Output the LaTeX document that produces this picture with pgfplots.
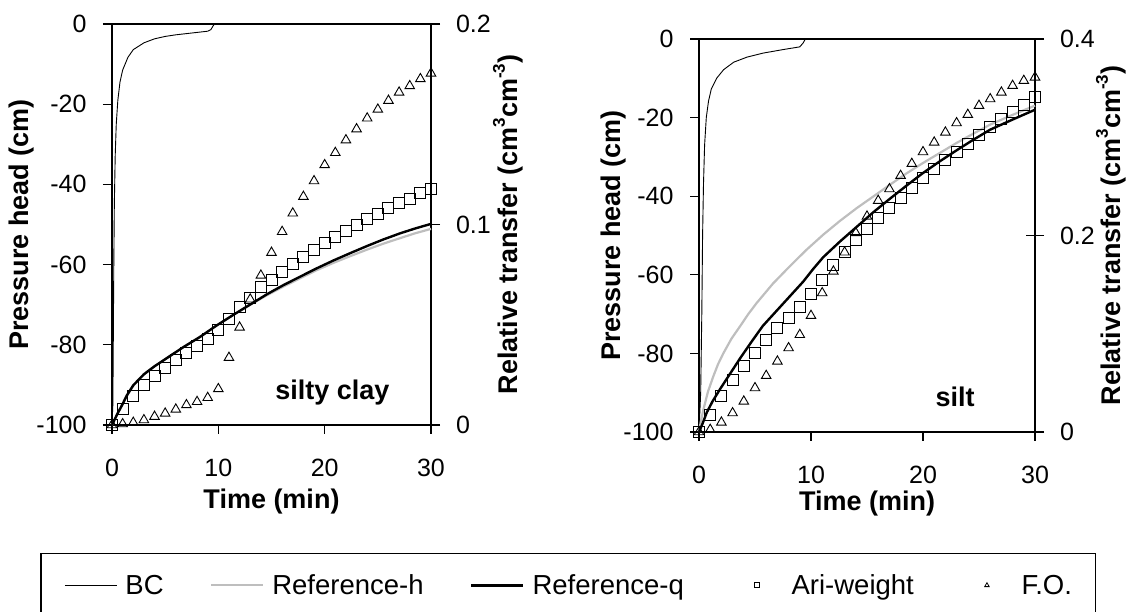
\documentclass[border=0pt]{standalone}
\usepackage{fontspec}
\setmainfont{Liberation Sans}
\usepackage{pgfplots}
\pgfplotsset{compat=1.18}
\definecolor{refh}{RGB}{190,190,190}
\newcommand\tsz{\fontsize{25}{30}\selectfont}
\newcommand\lsz{\fontsize{27}{32}\selectfont\bfseries}
\newcommand\sups[1]{\raisebox{0.45em}{\fontsize{17}{17}\selectfont #1}}
\pgfplotsset{
  base/.style={scale only axis, anchor=south west, xmin=0, xmax=30,
    axis line style={line width=1.2pt, black},
    every tick/.style={line width=1.2pt, black},
    major tick length=9pt, tick align=outside,
    tick label style={font=\tsz},
    label style={font=\lsz},
  },
  hax/.style={base, ymin=-100, ymax=0, ytick={-100,-80,-60,-40,-20,0},
    yticklabels={-100,-80,-60,-40,-20,0}, ytick pos=left,
    xtick={0,10,20,30}, xticklabels={0,10,20,30}, xtick pos=bottom,
    yticklabel style={xshift=-13pt}, xticklabel style={yshift=-21.5pt},
    xlabel={Time (min)}, ylabel={Pressure head (cm)}},
  tax/.style={base, axis x line=none, axis y line*=right, clip=false,
    yticklabel style={xshift=12.5pt},
    ylabel={Relative transfer (cm\sups{3}cm\sups{-3})}},
  bcst/.style={black, line width=0.9pt},
  rhst/.style={refh, line width=2.2pt},
  rqst/.style={black, line width=2.4pt},
  sqst/.style={only marks, mark=square, mark size=5.5pt, mark options={line width=1pt, black, fill=none}},
  trst/.style={only marks, mark=triangle, mark size=5.5pt, mark options={line width=0.9pt, black, fill=none}},
}
\begin{document}
\begin{tikzpicture}
\useasboundingbox (0pt,0pt) rectangle (1132pt,612pt);
% ---------------- left chart: silty clay
\begin{axis}[hax, at={(112pt,187pt)}, width=319pt, height=401pt,
  xlabel style={at={(axis description cs:0.5,-0.192)}, anchor=center},
  ylabel style={at={(axis description cs:-0.284,0.5)}, anchor=center}]
\addplot[bcst] table {
0 -100
0.08 -95
0.12 -80
0.17 -60
0.22 -45
0.3 -33
0.4 -25
0.55 -19
0.75 -14.5
1.0 -11.5
1.5 -8.3
2 -6.4
3 -4.7
4 -3.7
5 -3.1
6 -2.7
7 -2.4
8 -2.1
9 -1.8
9.3 -1.4
9.5 -0.5
9.65 0
30 0
};
\end{axis}
\begin{axis}[tax, at={(112pt,187pt)}, width=319pt, height=401pt,
  ymin=0, ymax=0.2, ytick={0,0.1,0.2}, yticklabels={0,0.1,0.2},
  ylabel style={at={(axis description cs:1.241,0.5)}, anchor=center}]
\addplot[rhst] table {
0 0
0.5 0.0053
1.0 0.0102
1.4 0.0145
2 0.0196
3 0.0251
4 0.0292
5.2 0.0335
6.7 0.0388
8.3 0.044
9.8 0.0495
11.4 0.0549
13 0.0600
14.6 0.0648
16.1 0.069
17.7 0.0732
19.2 0.0771
20.8 0.0808
22.4 0.0842
24 0.0875
25.5 0.0904
27.1 0.0932
28.5 0.0956
30 0.0978
};
\addplot[rqst] table {
0 0
0.5 0.0055
1.0 0.0105
1.4 0.0148
2 0.0198
3 0.0253
4 0.0293
5.2 0.0335
6.7 0.0388
8.3 0.044
9.8 0.0495
11.4 0.0549
13 0.0601
14.6 0.0653
16.1 0.0697
17.7 0.074
19.2 0.078
20.8 0.082
22.4 0.0857
24 0.0893
25.5 0.0925
27.1 0.0956
28.5 0.098
30 0.1003
};
\addplot[sqst] table {
0 0
1 0.0078
2 0.0145
3 0.020
4 0.0244
5 0.0286
6 0.0324
7 0.0361
8 0.0394
9 0.0427
10 0.0474
11 0.0527
12 0.0587
13 0.0635
14 0.0687
15 0.0723
16 0.0765
17 0.0803
18 0.084
19 0.0873
20 0.0906
21 0.0936
22 0.0969
23 0.0998
24 0.1026
25 0.1054
26 0.1081
27 0.1106
28 0.1129
29 0.1156
30 0.1176
};
\addplot[trst] table {
0 0
1 0.0005
2 0.0012
3 0.0025
4 0.0042
5 0.0058
6 0.0078
7 0.010
8 0.0116
9 0.0136
10 0.018
11 0.0336
12 0.0487
13 0.0627
14 0.0746
15 0.086
16 0.0964
17 0.1056
18 0.1139
19 0.1217
20 0.1297
21 0.1358
22 0.1421
23 0.1476
24 0.153
25 0.1574
26 0.1618
27 0.1659
28 0.1691
29 0.1726
30 0.1754
};
\node[font=\lsz] at (rel axis cs:0.691,0.08) {silty clay};
\end{axis}
% ---------------- right chart: silt
\begin{axis}[hax, at={(699pt,180pt)}, width=336pt, height=393pt,
  xlabel style={at={(axis description cs:0.5,-0.181)}, anchor=center},
  ylabel style={at={(axis description cs:-0.253,0.5)}, anchor=center}]
\addplot[bcst] table {
0 -100
0.15 -90
0.25 -70
0.32 -50
0.4 -37
0.5 -27
0.65 -20
0.85 -15.8
1.1 -12.7
1.6 -9.9
2.2 -7.8
3.1 -5.9
4.3 -4.6
5.7 -3.6
7.5 -2.7
9.0 -2.0
9.3 -1.0
9.5 0
30 0
};
\end{axis}
\begin{axis}[tax, at={(699pt,180pt)}, width=336pt, height=393pt,
  ymin=0, ymax=0.4, ytick={0,0.4}, yticklabels={0,0.4},
  extra y ticks={0.2}, extra y tick labels={0.2},
  extra y tick style={tick align=center, major tick length=18pt},
  ylabel style={at={(axis description cs:1.226,0.5)}, anchor=center},
  legend columns=5,
  legend style={at={(axis description cs:-1.960,-0.3079)}, anchor=north west,
    draw=black, line width=1.2pt, font=\fontsize{27.5}{32}\selectfont,
    inner xsep=23.5pt, inner ysep=21pt, legend cell align=left,
    nodes={inner sep=0pt},
    /tikz/every odd column/.append style={column sep=8pt},
    /tikz/every even column/.append style={column sep=46.5pt}},
  legend image code/.code={\path (0pt,0pt) (52pt,0pt);
    \draw[mark repeat=2,mark phase=2,#1] plot coordinates {(0pt,0pt) (26pt,0pt) (52pt,0pt)};}]
\addlegendimage{bcst}
\addlegendimage{rhst}
\addlegendimage{rqst}
\addlegendimage{only marks, mark=square, mark size=2.5pt, mark options={line width=0.8pt, black}}
\addlegendimage{only marks, mark=triangle, mark size=2.6pt, mark options={line width=0.8pt, black}}
\legend{BC,Reference-h,Reference-q,Ari-weight,F.O.}
\addplot[rhst, forget plot] table {
0 0
0.15 0.01
0.39 0.0227
0.8 0.041
1.28 0.0567
1.7 0.069
2.17 0.08
2.9 0.095
3.66 0.1075
4.4 0.12
5.15 0.1313
6.6 0.151
8.1 0.1686
9.6 0.1855
11.1 0.2009
12.6 0.215
14.1 0.228
15.6 0.240
17.05 0.2517
18.5 0.263
20 0.2738
21.5 0.284
23 0.2942
24.5 0.3037
26 0.3129
28 0.3228
30 0.3322
};
\addplot[rqst, forget plot] table {
0 0
0.3 0.008
0.7 0.02
1.2 0.031
1.9 0.044
2.7 0.058
3.7 0.0755
4.7 0.092
5.7 0.108
6.9 0.123
8.1 0.138
9.3 0.153
10.2 0.166
11.1 0.178
12.6 0.194
14.1 0.209
15.6 0.224
17 0.237
18.5 0.2505
20 0.2636
21.5 0.2755
23 0.2867
24.5 0.2975
26 0.3077
28 0.318
30 0.328
};
\addplot[sqst, forget plot] table {
0 0
1 0.0176
2 0.0363
3 0.0526
4 0.0668
5 0.0804
6 0.0933
7 0.1059
8 0.116
9 0.1272
10 0.1408
11 0.155
12 0.1703
13 0.1832
14 0.1951
15 0.2066
16 0.2178
17 0.228
18 0.2382
19 0.2483
20 0.2585
21 0.2677
22 0.2765
23 0.2846
24 0.2935
25 0.3026
26 0.31
27 0.3186
28 0.3254
29 0.3332
30 0.341
};
\addplot[trst, forget plot] table {
0 0
1 0.0024
2 0.0098
3 0.0193
4 0.0312
5 0.0448
6 0.0573
7 0.0719
8 0.0855
9 0.099
10 0.1184
11 0.1415
12 0.1635
13 0.1829
14 0.2026
15 0.2195
16 0.2355
17 0.2473
18 0.2609
19 0.2731
20 0.285
21 0.2948
22 0.305
23 0.3145
24 0.323
25 0.3322
26 0.3389
27 0.3457
28 0.3525
29 0.3576
30 0.361
};
\node[font=\lsz] at (rel axis cs:0.762,0.089) {silt};
\end{axis}
\end{tikzpicture}
\end{document}
